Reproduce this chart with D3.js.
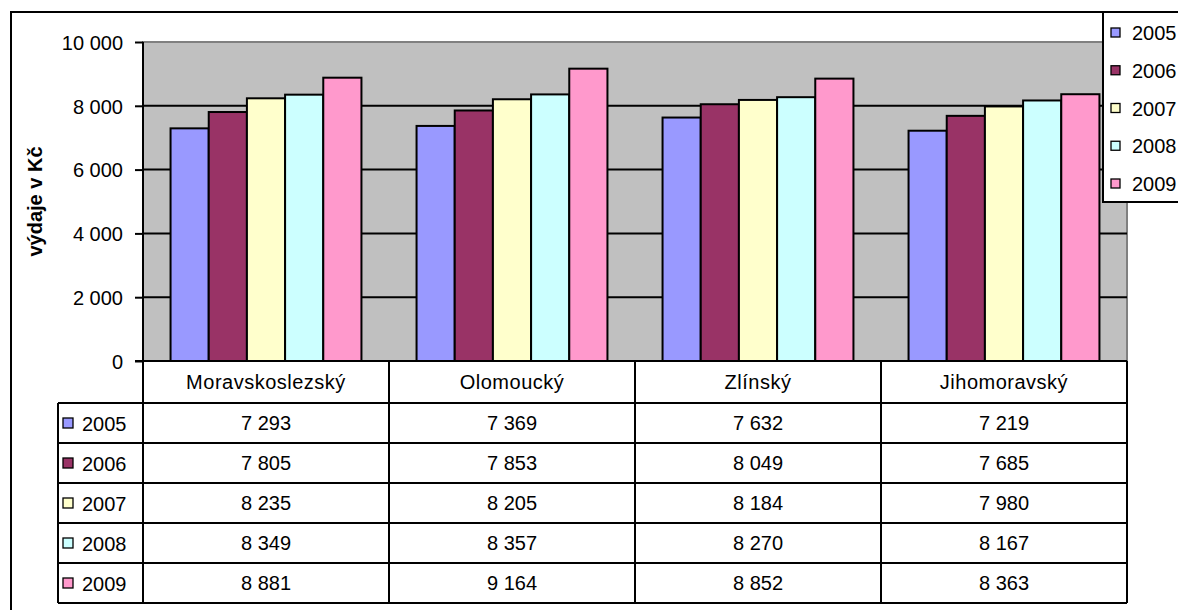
<!DOCTYPE html>
<meta charset="utf-8">
<style>
body { margin: 0; background: #fff; }
svg text { font-family: "Liberation Sans", Arial, sans-serif; fill: #000; }
</style>
<body>
<script src="https://d3js.org/d3.v7.min.js"></script>
<script>

// data
var regions = ["Moravskoslezský", "Olomoucký", "Zlínský", "Jihomoravský"];
var years = ["2005", "2006", "2007", "2008", "2009"];
var v2005 = [7293, 7369, 7632, 7219];
var v2006 = [7805, 7853, 8049, 7685];
var v2007 = [8235, 8205, 8184, 7980];
var v2008 = [8349, 8357, 8270, 8167];
var v2009 = [8881, 9164, 8852, 8363];
var yTicks = [0, 2000, 4000, 6000, 8000, 10000];
var colors = ["#9999ff", "#993366", "#ffffcc", "#ccffff", "#ff99cc"];

var series = [v2005, v2006, v2007, v2008, v2009];

var W = 1178, H = 610;
var plot = {left: 143, right: 1127, top: 42, bottom: 361};
var rowH = 40, headH = 42;

var fmt = d3.formatLocale({decimal: ",", thousands: " ", grouping: [3], currency: ["", " Kč"]}).format(",d");

var svg = d3.select("body").append("svg")
    .attr("width", W)
    .attr("height", H);

// outer frame
svg.append("rect")
    .attr("x", 11).attr("y", 12)
    .attr("width", W).attr("height", H)
    .attr("fill", "#fff")
    .attr("stroke", "#000").attr("stroke-width", 2);

var x = d3.scaleBand().domain(regions).range([plot.left, plot.right]);
var gap = x.bandwidth() * 0.112;
var x1 = d3.scaleBand().domain(years).range([gap, x.bandwidth() - gap]);
var y = d3.scaleLinear().domain([0, 10000]).range([plot.bottom, plot.top]);

// plot background
svg.append("rect")
    .attr("x", plot.left).attr("y", plot.top)
    .attr("width", plot.right - plot.left).attr("height", plot.bottom - plot.top)
    .attr("fill", "#c0c0c0")
    .attr("stroke", "#808080").attr("stroke-width", 2);

// grid lines
svg.append("g").selectAll("line")
    .data(yTicks.filter(function(d) { return d > 0 && d < 10000; }))
  .enter().append("line")
    .attr("x1", plot.left).attr("x2", plot.right)
    .attr("y1", function(d) { return y(d); })
    .attr("y2", function(d) { return y(d); })
    .attr("stroke", "#000").attr("stroke-width", 2);

// bars
var groups = svg.append("g").selectAll("g")
    .data(regions)
  .enter().append("g")
    .attr("transform", function(d) { return "translate(" + x(d) + ",0)"; });

groups.selectAll("rect")
    .data(function(d, i) { return years.map(function(yr, j) { return {year: yr, value: series[j][i], j: j}; }); })
  .enter().append("rect")
    .attr("x", function(d) { return x1(d.year); })
    .attr("y", function(d) { return y(d.value); })
    .attr("width", x1.bandwidth())
    .attr("height", function(d) { return plot.bottom - y(d.value); })
    .attr("fill", function(d) { return colors[d.j]; })
    .attr("stroke", "#000").attr("stroke-width", 2);

// y axis
var yAxis = svg.append("g")
    .attr("transform", "translate(" + plot.left + ",0)")
    .call(d3.axisLeft(y).tickValues(yTicks).tickSize(8).tickPadding(12).tickFormat(fmt));
yAxis.select(".domain").attr("stroke", "#000").attr("stroke-width", 2).attr("d", "M0," + plot.top + "V" + plot.bottom);
yAxis.selectAll(".tick line").attr("stroke-width", 2);
yAxis.selectAll(".tick text")
    .style("font-family", "'Liberation Sans', Arial, sans-serif")
    .style("font-size", "20px")
    .attr("dy", "0.36em");

svg.append("text")
    .attr("transform", "translate(42," + ((plot.top + plot.bottom) / 2) + ") rotate(-90)")
    .attr("text-anchor", "middle")
    .style("font-size", "20px")
    .style("font-weight", "bold")
    .text("výdaje v Kč");

// data table
var table = svg.append("g");
var tLeft = 58;
var tTop = plot.bottom;
var rowTop = tTop + headH;
var tBottom = rowTop + rowH * years.length;

// axis line across bottom of plot
table.append("line")
    .attr("x1", plot.left - 8).attr("x2", plot.right)
    .attr("y1", tTop).attr("y2", tTop)
    .attr("stroke", "#000").attr("stroke-width", 2);

// vertical lines at category boundaries
var bounds = regions.map(function(d) { return x(d); }).concat([plot.right]);
table.selectAll(".vline")
    .data(bounds)
  .enter().append("line")
    .attr("x1", function(d) { return d; }).attr("x2", function(d) { return d; })
    .attr("y1", tTop).attr("y2", tBottom)
    .attr("stroke", "#000").attr("stroke-width", 2);

table.append("line")
    .attr("x1", tLeft).attr("x2", tLeft)
    .attr("y1", rowTop).attr("y2", tBottom)
    .attr("stroke", "#000").attr("stroke-width", 2);

// horizontal row lines
table.selectAll(".hline")
    .data(d3.range(years.length + 1))
  .enter().append("line")
    .attr("x1", tLeft).attr("x2", plot.right)
    .attr("y1", function(i) { return rowTop + i * rowH; })
    .attr("y2", function(i) { return rowTop + i * rowH; })
    .attr("stroke", "#000").attr("stroke-width", 2);

// header labels
table.selectAll(".head")
    .data(regions)
  .enter().append("text")
    .attr("x", function(d) { return x(d) + x.bandwidth() / 2; })
    .attr("y", tTop + 28)
    .attr("text-anchor", "middle")
    .style("font-size", "20px")
    .style("letter-spacing", "0.5px")
    .text(function(d) { return d; });

// rows
years.forEach(function(yr, j) {
  var ry = rowTop + j * rowH;
  table.append("rect")
      .attr("x", tLeft + 5).attr("y", ry + rowH / 2 - 5)
      .attr("width", 10).attr("height", 10)
      .attr("fill", colors[j]).attr("stroke", "#000").attr("stroke-width", 1.3);
  table.append("text")
      .attr("x", tLeft + 24).attr("y", ry + rowH / 2 + 8)
      .style("font-size", "20px")
      .text(yr);
  table.selectAll(null)
      .data(series[j])
    .enter().append("text")
      .attr("x", function(d, i) { return x(regions[i]) + x.bandwidth() / 2; })
      .attr("y", ry + rowH / 2 + 7)
      .attr("text-anchor", "middle")
      .style("font-size", "20px")
      .text(function(d) { return fmt(d); });
});

// legend
var leg = svg.append("g");
leg.append("rect")
    .attr("x", 1103).attr("y", 12)
    .attr("width", 100).attr("height", 190)
    .attr("fill", "#fff").attr("stroke", "#000").attr("stroke-width", 2);
var legY = d3.scalePoint().domain(years).range([33, 184]);
years.forEach(function(yr, j) {
  leg.append("rect")
      .attr("x", 1111).attr("y", legY(yr) - 5)
      .attr("width", 9).attr("height", 9)
      .attr("fill", colors[j]).attr("stroke", "#000").attr("stroke-width", 1.3);
  leg.append("text")
      .attr("x", 1132).attr("y", legY(yr) + 7)
      .style("font-size", "20px")
      .text(yr);
});

</script>
</body>
